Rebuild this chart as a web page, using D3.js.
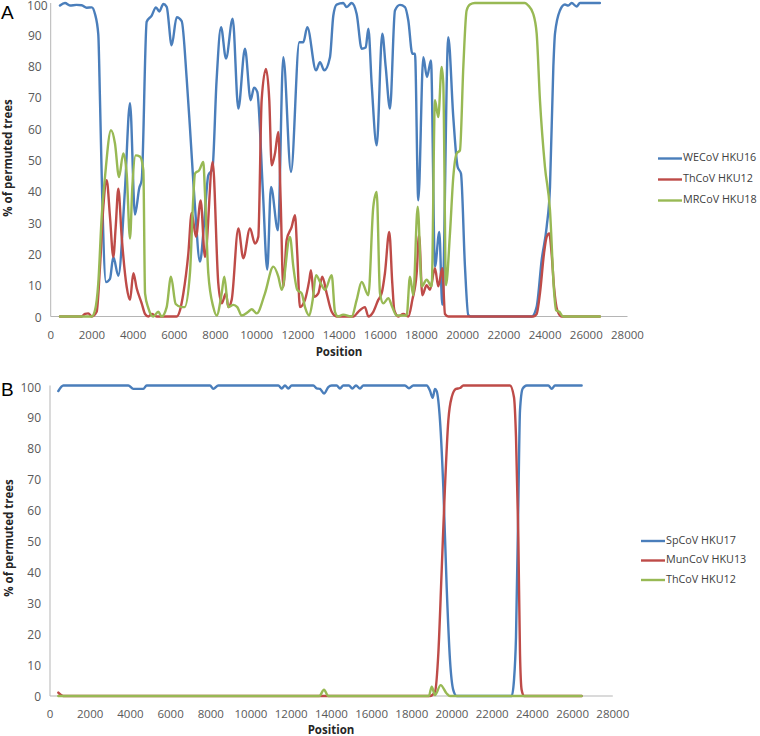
<!DOCTYPE html>
<html>
<head>
<meta charset="utf-8">
<script src="https://cdn.jsdelivr.net/npm/d3@7"></script>
<style>
  html, body { margin: 0; padding: 0; background: #fff; }
  svg { display: block; }
</style>
</head>
<body>
<svg id="chart" width="760" height="736"></svg>
<script>
// ---------- DATA ----------
const xTicks = [0,2000,4000,6000,8000,10000,12000,14000,16000,18000,20000,22000,24000,26000,28000];
const yTicks = [0,10,20,30,40,50,60,70,80,90,100];

const seriesNamesA = ["WECoV HKU16", "ThCoV HKU12", "MRCoV HKU18"];
const seriesNamesB = ["SpCoV HKU17", "MunCoV HKU13", "ThCoV HKU12"];

// Panel A: [position, % of permuted trees]
const wecovA = [[450,99.2],[694,100],[937,99.2],[1250,99.4],[1504,99.3],[1747,98.5],[1990,98.6],[2150,96.5],[2310,90],[2393,69],[2505,37],[2685,11],[2878,12],[3040,19],[3283,13],[3600,40],[3850,68],[4092,32.5],[4300,41],[4417,43.5],[4660,94],[4903,96],[5111,98.6],[5273,97.3],[5467,99.7],[5630,98.8],[5873,86.5],[6116,95.5],[6359,94.2],[6600,76],[6762,60],[7005,35],[7247,17.5],[7450,30],[7650,45],[7850,47],[8050,75],[8267,92.3],[8510,82.3],[8834,95],[9108,66.3],[9430,85.4],[9708,69],[9868,73],[10029,71.6],[10300,40],[10513,15],[10693,41.3],[11033,27.5],[11290,82.7],[11665,46.1],[12068,87.5],[12262,87.5],[12456,92.3],[12878,78.5],[13072,81.1],[13282,78.5],[13557,82.7],[13720,96],[13880,99.5],[14200,100],[14368,98.7],[14610,100],[14853,96.5],[15096,85.4],[15290,85.8],[15420,91.8],[15580,74.3],[15824,54.6],[16096,90.2],[16262,79.6],[16470,66.3],[16712,97.6],[16955,99.4],[17198,98.7],[17360,94.4],[17555,83.8],[17683,83.8],[17845,37.1],[18088,82.7],[18265,76.4],[18460,81.7],[18654,15.9],[18864,27],[19010,3.7],[19300,89.1],[19543,63.6],[19755,47.7],[19916,45.6],[20110,15.9],[20270,0.5],[20400,0],[23350,0],[23590,3.1],[23833,18],[24076,28.6],[24237,41.3],[24400,79.6],[24480,90.2],[24720,97.6],[24963,99.5],[25125,99.2],[25290,100],[25530,98.9],[25693,100],[26660,100]];

const thcovA = [[450,0],[1500,0],[1665,0.8],[1828,1],[1990,0],[2232,1.5],[2393,15.9],[2555,35],[2718,43.5],[2878,31.8],[3040,19],[3155,28.6],[3283,40.8],[3446,25.4],[3688,9.5],[3850,5.3],[4012,13.8],[4174,9],[4417,4.2],[4580,0.8],[4740,0],[4903,0.8],[5145,0],[6116,0],[6277,2],[6440,7.4],[6680,20],[6843,33],[7053,25.4],[7280,37],[7490,19],[7862,49.3],[8135,10.6],[8300,4.2],[8510,7.4],[8621,3],[8785,5.3],[9108,28.1],[9350,18.6],[9674,28.1],[9917,23.3],[10077,25.4],[10240,69],[10450,79],[10611,69],[10727,48.2],[10887,52],[11050,58.9],[11163,37],[11290,9.5],[11455,24.4],[11698,28.6],[11858,32.3],[11970,20],[12100,3],[12344,5.3],[12553,11.6],[12635,14.8],[12780,6.3],[12990,7.4],[13185,12.7],[13395,7.4],[13640,1.5],[13880,0],[14700,0],[14930,1.5],[15256,3],[15420,0],[15660,1.5],[15900,5.3],[16066,7.4],[16225,13.8],[16435,27],[16582,10.6],[16680,2],[16875,0],[17117,0.8],[17360,0],[17555,5.3],[17765,13.8],[17880,26],[18040,6.8],[18250,10],[18410,8.5],[18654,15.4],[18815,9.6],[19010,15.4],[19140,0.8],[19300,0],[23426,0],[23590,0.8],[23750,7.4],[23945,20],[24076,25.4],[24200,26.5],[24317,20],[24431,9.5],[24590,2],[24800,0],[26660,0]];

const mrcovA = [[450,0],[1990,0],[2150,2],[2310,10.6],[2475,31.8],[2636,44.5],[2927,59.4],[3120,55.2],[3315,44.5],[3524,52],[3688,45.6],[3850,24.9],[3962,41.3],[4124,51.4],[4335,51],[4497,46.7],[4580,7.4],[4740,2.7],[4980,0],[5222,1.5],[5385,0],[5630,3],[5840,12.7],[6066,4],[6359,3],[6500,3],[6762,14],[6900,35],[7005,45.6],[7213,46.7],[7407,49.3],[7490,39.2],[7650,13.8],[7893,3],[8055,0.3],[8300,7.4],[8427,12.7],[8621,3],[8864,3.7],[9058,3],[9270,0.3],[9593,1.5],[9757,2.3],[10000,1],[10402,7.4],[10806,15.9],[11050,12.7],[11213,8.5],[11616,25.4],[11778,15.9],[11970,8.5],[12184,7.4],[12344,3],[12553,0.3],[12718,5.3],[12878,13.2],[13104,10.6],[13314,8.5],[13640,13.2],[13800,1.5],[13960,0],[14200,0.6],[14610,0],[14853,5.3],[15096,11],[15420,6.8],[15660,35],[15824,39.7],[15985,7.4],[16144,4.2],[16388,5.8],[16582,3],[16795,0.3],[17280,0.3],[17440,12.7],[17600,6.8],[17815,35],[18010,9.6],[18250,11.7],[18494,9.6],[18654,69],[18815,63.6],[18978,79.6],[19058,74.3],[19188,10],[19382,26.5],[19543,44.5],[19706,52],[19867,53],[20030,79.6],[20190,97.6],[20350,99.5],[20594,100],[23022,100],[23183,99.2],[23426,96.5],[23590,90.3],[23750,69],[23993,47.7],[24237,33.9],[24431,8.4],[24530,2],[24690,1.5],[24880,0],[26660,0]];

// Panel B
const spcovB = [[413,98.2],[663,100],[3896,100],[4145,98.9],[4642,98.9],[4810,100],[7960,100],[8126,98.9],[8375,100],[11360,100],[11527,99],[11690,100],[11857,99],[12024,100],[13100,100],[13268,99.1],[13433,98.9],[13632,97.4],[13846,99.5],[14013,100],[14260,100],[14428,99],[14592,100],[14870,100],[15040,99],[15224,100],[15423,99],[15590,100],[17660,100],[17860,99.1],[18075,100],[18740,100],[18905,98.3],[19038,96],[19154,98.9],[19238,98.2],[19403,88.7],[19567,67.3],[19735,35.1],[19900,11.6],[20065,1.9],[20233,0],[22970,0],[23084,5.1],[23184,19],[23300,62],[23383,92],[23516,99],[23715,100],[24792,100],[24960,98.9],[25124,100],[26450,100]];

const muncovB = [[413,1.1],[663,0],[18905,0],[19154,1.4],[19320,13.7],[19487,40.5],[19650,67.3],[19817,88.7],[19984,96.2],[20200,98.9],[20400,99.2],[20563,100],[22885,100],[23084,96.2],[23184,83.4],[23300,51.2],[23383,13.7],[23466,1.9],[23580,0],[26450,0]];

const thcovB = [[413,0],[13400,0],[13632,2],[13850,0],[18850,0],[18990,3],[19154,0.3],[19437,3.5],[19735,0.8],[19900,0],[26450,0]];

const colors = ["#4A7EBB", "#BE4B48", "#98B954"];

// ---------- DRAW ----------
const svg = d3.select("#chart");
const font = "'Open Sans', 'DejaVu Sans', sans-serif";

function panel(cfg) {
  const x = d3.scaleLinear().domain([0, 28000]).range(cfg.xr);
  const y = d3.scaleLinear().domain([0, 100]).range(cfg.yr);
  const g = svg.append("g");

  // axis lines
  g.append("line").attr("x1", x(0)).attr("x2", x(0)).attr("y1", y(0)).attr("y2", y(100))
    .attr("stroke", "#B5B5B5").attr("stroke-width", 1);
  g.append("line").attr("x1", x(0)).attr("x2", x(28000)).attr("y1", y(0)).attr("y2", y(0))
    .attr("stroke", "#B5B5B5").attr("stroke-width", 1);

  // y tick labels
  g.selectAll(".yt").data(yTicks).join("text")
    .attr("x", d => x(0) - (d === 100 ? cfg.topGap : 9))
    .attr("y", d => y(d) + (d === 100 ? 3.5 : 2))
    .attr("text-anchor", "end").attr("dominant-baseline", "middle")
    .attr("font-family", font).attr("font-size", 12).attr("fill", "#595959")
    .text(d => d);

  // x tick labels
  g.selectAll(".xt").data(xTicks).join("text")
    .attr("x", d => x(d)).attr("y", y(0) + 22)
    .attr("text-anchor", "middle")
    .attr("font-family", font).attr("font-size", 11.5).attr("fill", "#595959")
    .text(d => d3.format("d")(d));

  // axis titles
  g.append("text").attr("x", cfg.posX).attr("y", y(0) + cfg.posDy)
    .attr("text-anchor", "middle").attr("font-family", font).attr("font-weight", "bold")
    .attr("font-size", 11.5).attr("fill", "#262626").text("Position");
  g.append("text")
    .attr("transform", `translate(${cfg.ylabX},${cfg.ylabY}) rotate(-90)`)
    .attr("text-anchor", "middle").attr("dominant-baseline", "middle")
    .attr("font-family", font).attr("font-weight", "bold")
    .attr("font-size", 11.5).attr("fill", "#262626").text("% of permuted trees");

  // panel letter
  g.append("text").attr("x", 1).attr("y", cfg.letterY)
    .attr("font-family", "'Liberation Sans', Arial, sans-serif").attr("font-size", 19)
    .attr("fill", "#000").text(cfg.letter);

  // lines
  const line = d3.line().x(d => x(d[0])).y(d => y(d[1])).curve(d3.curveMonotoneX);
  cfg.series.forEach((s, i) => {
    g.append("path").datum(s).attr("d", line)
      .attr("fill", "none").attr("stroke", colors[i]).attr("stroke-width", 2.4)
      .attr("stroke-linejoin", "round").attr("stroke-linecap", "round");
  });

  // legend
  cfg.names.forEach((n, i) => {
    const ly = cfg.legY + i * cfg.legStep;
    g.append("line").attr("x1", cfg.legX).attr("x2", cfg.legX + 24).attr("y1", ly).attr("y2", ly)
      .attr("stroke", colors[i]).attr("stroke-width", 2.4);
    g.append("text").attr("x", cfg.legX + 25).attr("y", ly).attr("dominant-baseline", "middle")
      .attr("font-family", font).attr("font-size", 10.8).attr("fill", "#404040").text(n);
  });
}

panel({
  xr: [50.7, 627.5], yr: [316.5, 3],
  series: [wecovA, thcovA, mrcovA], names: seriesNamesA,
  posX: 339, posDy: 39, ylabX: 9, ylabY: 158, letter: "A", letterY: 19, topGap: 3,
  legX: 658, legY: 158.5, legStep: 21
});
panel({
  xr: [50, 612.8], yr: [696, 385.5],
  series: [spcovB, muncovB, thcovB], names: seriesNamesB,
  posX: 331, posDy: 37.5, ylabX: 10, ylabY: 538, letter: "B", letterY: 396, topGap: 9,
  legX: 641, legY: 541, legStep: 19.5
});
</script>
</body>
</html>
